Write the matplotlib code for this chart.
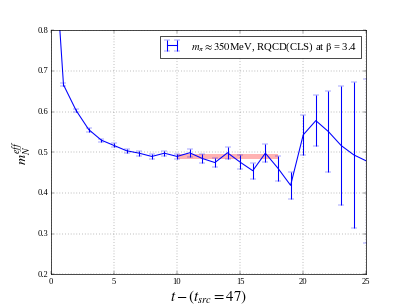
import matplotlib
matplotlib.use('Agg')
import matplotlib.pyplot as plt
import numpy as np

plt.style.use('classic')
plt.rcParams['font.family'] = 'serif'
plt.rcParams['font.serif'] = ['Liberation Serif', 'DejaVu Serif']
plt.rcParams['mathtext.fontset'] = 'stix'

# effective mass vs time slice
t = np.arange(0, 26)
m_eff = [1.135, 0.666, 0.603, 0.556, 0.530, 0.517, 0.504, 0.498, 0.490, 0.498,
         0.490, 0.499, 0.485, 0.475, 0.499, 0.476, 0.455, 0.498, 0.461, 0.419,
         0.543, 0.578, 0.551, 0.517, 0.494, 0.479]
m_err = [0.02, 0.004, 0.004, 0.005, 0.004, 0.005, 0.005, 0.006, 0.006, 0.006,
         0.007, 0.010, 0.010, 0.012, 0.015, 0.017, 0.020, 0.022, 0.031, 0.033,
         0.050, 0.063, 0.100, 0.147, 0.180, 0.201]

# plateau fit
fit_range = [10, 18]
fit_val = 0.4898
fit_err = 0.007

DPI = 50.875
fig, ax = plt.subplots(figsize=(8, 6), dpi=DPI)

ax.errorbar(t, m_eff, yerr=m_err, color='b', ecolor='b', lw=1.5, capsize=4,
            label=r'$m_\pi \approx 350$MeV, RQCD(CLS) at $\mathrm{\beta}$ = 3.4')
ax.fill_between(fit_range, fit_val - fit_err, fit_val + fit_err,
                color='red', alpha=0.3, lw=0)

ax.set_xlim(0, 25)
ax.set_ylim(0.2, 0.8)
ax.grid(True)
ax.set_xlabel(r'$t-(t_{src}=47)$', fontsize=21)
ax.set_ylabel(r'$m_N^{eff}$', fontsize=20)
ax.legend(loc='upper right', fontsize=15, numpoints=2, handlelength=1.5,
          handletextpad=1.0)

fig.savefig('out.png', dpi=DPI)
